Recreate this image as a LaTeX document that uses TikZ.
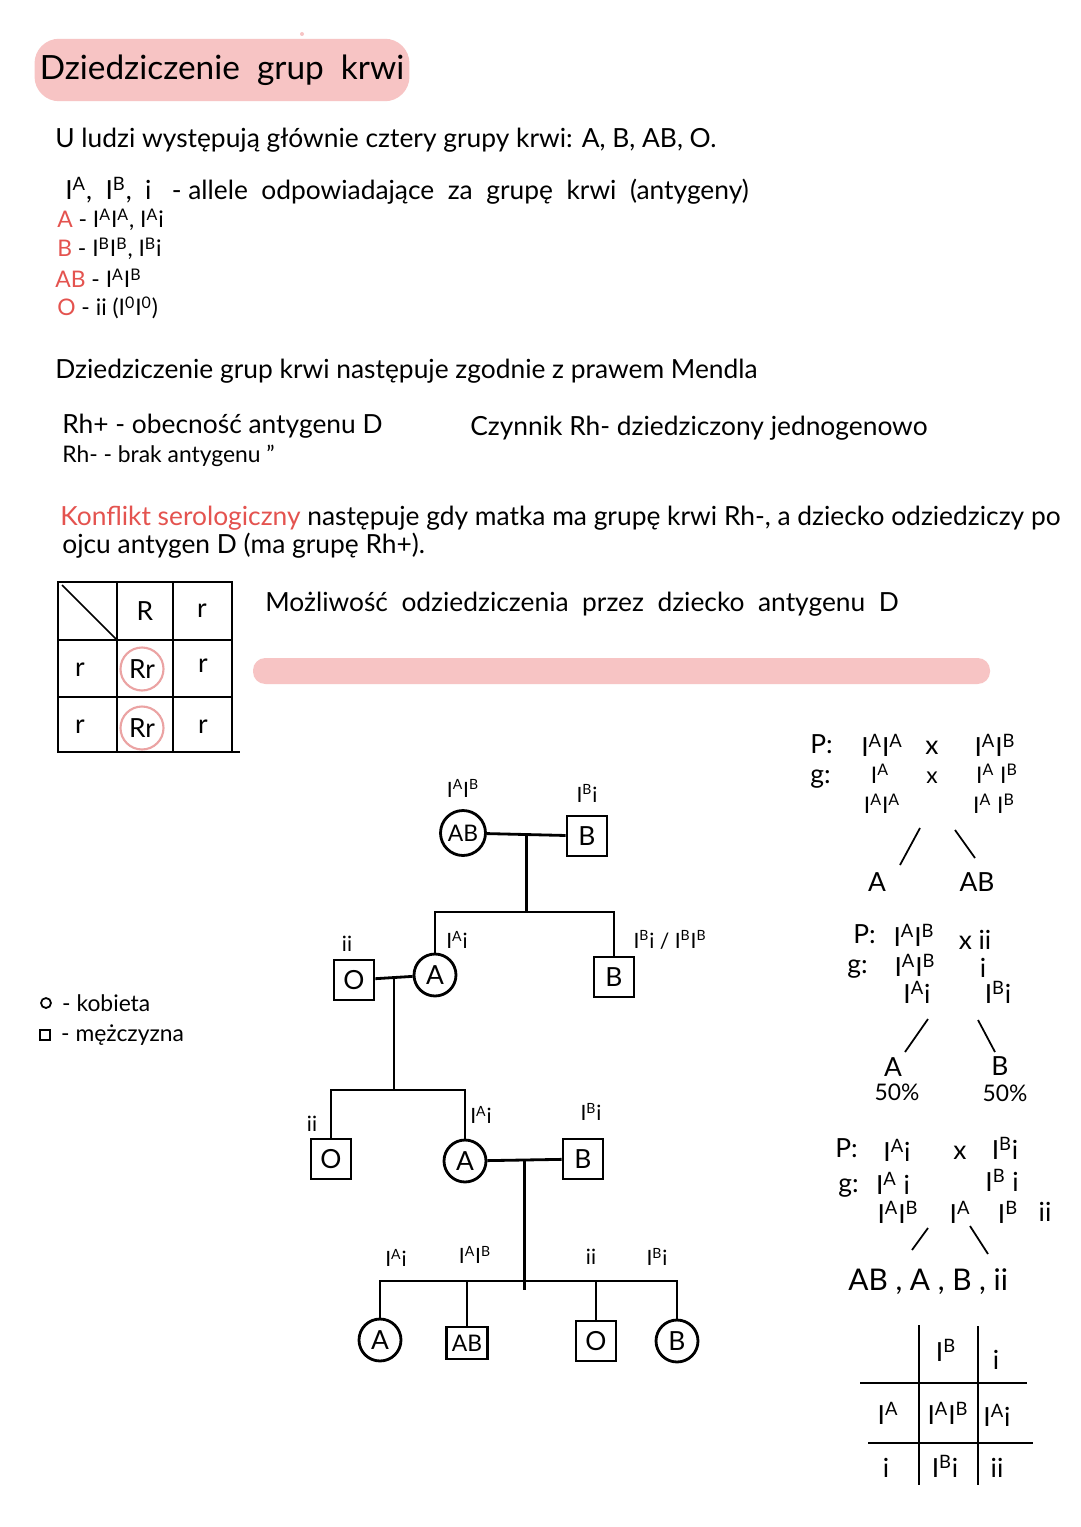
\documentclass[tikz,border=0pt]{standalone}
\usepackage{fontspec}
\setmainfont{Lato}
\usepackage{xcolor}
\definecolor{lightpink}{HTML}{F7C4C4}
\definecolor{ringpink}{HTML}{EBA3A3}
\definecolor{notered}{HTML}{E4534F}
\usepackage{tikz}
\usetikzlibrary{positioning,calc}
\newcommand{\allel}[1]{I\textsuperscript{#1}}

\begin{document}
\begin{tikzpicture}[
  x=0.02cm, y=-0.02cm,
  font=\fontsize{15}{18}\selectfont,
  tekst/.style={anchor=base west, inner sep=0pt},
  maly/.style={tekst, font=\fontsize{13}{15}\selectfont},
  geno/.style={inner sep=1pt, font=\fontsize{12}{14}\selectfont},
  gen/.style={inner sep=0pt},
  gens/.style={gen, font=\fontsize{13}{15}\selectfont},
  kobieta/.style={draw, circle, line width=1.6pt, minimum size=0.84cm, inner sep=0pt,
                  font=\fontsize{15}{17}\selectfont},
  mezczyzna/.style={draw, rectangle, line width=1.6pt, minimum size=0.8cm, inner sep=0pt,
                    font=\fontsize{15}{17}\selectfont},
  rod/.style={line width=1.6pt},
  krata/.style={line width=1.2pt},
  galaz/.style={line width=1pt},
  pole/.style={inner sep=1pt}
]
\useasboundingbox[fill=white] (0,0) rectangle (1080,1527);

\node[fill=lightpink, rounded corners=14pt, inner sep=2pt, minimum width=7.5cm, minimum height=1.25cm,
      font=\fontsize{19}{23}\selectfont] (tytul) at (222,70) {Dziedziczenie\ \ grup\ \ krwi};
\fill[lightpink] (302,34) circle (2);

\node[tekst] (l1) at (55,148) {U ludzi występują głównie cztery grupy krwi: A, B, AB, O.};
\node[tekst] (l2) at (65,200) {\allel{A},\ \ \allel{B},\ \ i \ \ - allele\ \ odpowiadające\ \ za\ \ grupę\ \ krwi\ \ (antygeny)};
\node[maly] (ga) at (57,228) {\textcolor{notered}{A} - \allel{A}\allel{A}, \allel{A}i};
\node[maly] (gb) at (57,257) {\textcolor{notered}{B} - \allel{B}\allel{B}, \allel{B}i};
\node[maly] (gab) at (55,288) {\textcolor{notered}{AB} - \allel{A}\allel{B}};
\node[maly] (go) at (57,316) {\textcolor{notered}{O} - ii (\allel{0}\allel{0})};

\node[tekst] (mendel) at (55,378) {Dziedziczenie grup krwi następuje zgodnie z prawem Mendla};
\node[tekst] (rhp) at (62,433) {Rh+ - obecność antygenu D};
\node[maly] (rhm) at (62,462) {Rh- - brak antygenu ”};
\node[tekst] (czynnik) at (470,435) {Czynnik Rh- dziedziczony jednogenowo};
\node[tekst] (konflikt) at (60,525) {\textcolor{notered}{Konflikt serologiczny} następuje gdy matka ma grupę krwi Rh-, a dziecko odziedziczy po};
\node[tekst] (ojcu) at (62,553) {ojcu antygen D (ma grupę Rh+).};

\draw[krata] (58,582) rectangle (232,752);
\foreach \x in {117,173} \draw[krata] (\x,582) -- (\x,752);
\foreach \y in {640,697} \draw[krata] (58,\y) -- (232,\y);
\draw[krata] (232,752) -- (240,752);
\draw[galaz] (62,585) -- (117,640);
\node[pole] (hR) at (145,611) {R};
\node[pole] (hr) at (202,611) {r};
\node[pole] (w1) at (80,670) {r};
\node[circle, draw=ringpink, line width=1.2pt, minimum size=0.86cm, inner sep=0pt] (rr1) at (142,669) {Rr};
\node[pole] (c1) at (203,666) {r};
\node[pole] (w2) at (80,727) {r};
\node[circle, draw=ringpink, line width=1.2pt, minimum size=0.86cm, inner sep=0pt] (rr2) at (142,728) {Rr};
\node[pole] (c2) at (203,727) {r};

\node[tekst] (mozliwosc) at (265,611) {Możliwość\ \ odziedziczenia\ \ przez\ \ dziecko\ \ antygenu\ \ D};
\fill[lightpink, rounded corners=7pt] (253,658) rectangle (990,684);

\node[draw, circle, line width=1pt, minimum size=0.2cm, inner sep=0pt] (legk) at (46,1003) {};
\node[maly, right=0.2cm of legk.east, anchor=west] (legkt) {- kobieta};
\node[draw, rectangle, line width=1pt, minimum size=0.2cm, inner sep=0pt] (legm) at (45,1035) {};
\node[maly, right=0.2cm of legm.east, anchor=west] (legmt) {- mężczyzna};

\node[kobieta, font=\fontsize{13}{15}\selectfont, minimum height=0.9cm] (babcia) at (463,833) {AB};
\node[mezczyzna] (dziadek) at (587,836) {B};
\node[kobieta] (corka) at (435,975) {A};
\node[mezczyzna] (syn) at (614,977) {B};
\node[mezczyzna] (ziec) at (354,980) {O};
\node[mezczyzna] (wnuk) at (331,1159) {O};
\node[kobieta] (wnuczka) at (465,1161) {A};
\node[mezczyzna] (partner) at (583,1159) {B};
\node[kobieta] (d1) at (380,1340) {A};
\node[mezczyzna, minimum height=0.64cm, minimum width=0.82cm, font=\fontsize{13}{15}\selectfont] (d2) at (467,1343) {AB};
\node[mezczyzna] (d3) at (596,1341) {O};
\node[kobieta] (d4) at (677,1341) {B};

\node[geno, above=0.2cm of babcia] (gbabcia) {\allel{A}\allel{B}};
\node[geno, above=0.2cm of dziadek] (gdziadek) {\allel{B}i};
\node[geno] (gcorka) at (457,940) {\allel{A}i};
\node[geno] (gsyn) at (670,940) {\allel{B}i / \allel{B}\allel{B}};
\node[geno] (gziec) at (347,944) {ii};
\node[geno] (gwnuk) at (312,1124) {ii};
\node[geno] (gwnuczka) at (481,1115) {\allel{A}i};
\node[geno] (gpartner) at (591,1112) {\allel{B}i};
\node[geno] (gd1) at (396,1258) {\allel{A}i};
\node[geno] (gd2) at (475,1255) {\allel{A}\allel{B}};
\node[geno] (gd3) at (591,1257) {ii};
\node[geno] (gd4) at (657,1257) {\allel{B}i};

\coordinate (m1) at ($(babcia.east)!0.5!(dziadek.west)$);
\coordinate (r1) at (522,912);
\draw[rod] (babcia) -- (dziadek);
\draw[rod] (m1) -- (m1 |- r1);
\draw[rod] (corka.north) -- (corka.north |- r1) -- (syn.north |- r1) -- (syn.north);
\coordinate (m2) at ($(ziec.east)!0.5!(corka.west)$);
\coordinate (r2) at (396,1090);
\draw[rod] (ziec) -- (corka);
\draw[rod] (m2) -- (m2 |- r2);
\draw[rod] (wnuk.north) -- (wnuk.north |- r2) -- (wnuczka.north |- r2) -- (wnuczka.north);
\coordinate (m3) at ($(wnuczka.east)!0.5!(partner.west)$);
\coordinate (r3) at (522,1281);
\draw[rod] (wnuczka) -- (partner);
\draw[rod] (m3) -- ($(m3 |- r3)+(0,9)$);
\draw[rod] (d1.north) -- (d1.north |- r3) -- (d4.north |- r3) -- (d4.north);
\draw[rod] (d2.north) -- (d2.north |- r3);
\draw[rod] (d3.north) -- (d3.north |- r3);

\node[tekst] (k1p) at (810,753) {P:};
\node[gen] (k1a) at (882,745) {\allel{A}\allel{A}};
\node[gen] (k1x) at (932,748) {x};
\node[gen] (k1b) at (995,745) {\allel{A}\allel{B}};
\node[tekst] (k1g) at (810,783) {g:};
\node[gens] (k1ga) at (880,774) {\allel{A}};
\node[gens] (k1gx) at (932,778) {x};
\node[gens] (k1gb) at (997,774) {\allel{A}\ \allel{B}};
\node[gens] (k1fa) at (882,804) {\allel{A}\allel{A}};
\node[gens] (k1fb) at (994,804) {\allel{A}\ \allel{B}};
\node[gen] (k1wa) at (877,882) {A};
\node[gen] (k1wb) at (977,882) {AB};
\draw[galaz] ($(k1wa)+(43,-54)$) -- ($(k1wa)+(23,-17)$);
\draw[galaz] ($(k1wb)+(-22,-52)$) -- ($(k1wb)+(-2,-24)$);

\node[tekst] (k2p) at (853,943) {P:};
\node[gen] (k2a) at (914,935) {\allel{A}\allel{B}};
\node[gen] (k2x) at (975,940) {x ii};
\node[tekst] (k2g) at (847,973) {g:};
\node[gen] (k2ga) at (915,965) {\allel{A}\allel{B}};
\node[gen] (k2gi) at (983,968) {i};
\node[gen] (k2fa) at (917,992) {\allel{A}i};
\node[gen] (k2fb) at (998,992) {\allel{B}i};
\node[gen] (k2wa) at (893,1067) {A};
\node[gens] (k2pa) at (897,1092) {50\%};
\node[gen] (k2wb) at (1000,1066) {B};
\node[gens] (k2pb) at (1005,1093) {50\%};
\draw[galaz] ($(k2wa)+(35,-48)$) -- ($(k2wa)+(12,-15)$);
\draw[galaz] ($(k2wb)+(-22,-46)$) -- ($(k2wb)+(-5,-14)$);

\node[tekst] (k3p) at (835,1157) {P:};
\node[gen] (k3a) at (897,1150) {\allel{A}i};
\node[gen] (k3x) at (960,1153) {x};
\node[gen] (k3b) at (1005,1148) {\allel{B}i};
\node[tekst] (k3g) at (838,1192) {g:};
\node[gen] (k3ga) at (893,1183) {\allel{A}\ i};
\node[gen] (k3gb) at (1002,1180) {\allel{B}\ i};
\node[gen] (k3f1) at (898,1212) {\allel{A}\allel{B}};
\node[gen] (k3f2) at (960,1212) {\allel{A}};
\node[gen] (k3f3) at (1008,1212) {\allel{B}};
\node[gen] (k3f4) at (1045,1212) {ii};
\node[tekst, font=\fontsize{17}{20}\selectfont] (k3w) at (848,1290) {AB , A , B , ii};
\draw[galaz] ($(k3f1)+(30,16)$) -- ($(k3f1)+(14,38)$);
\draw[galaz] ($(k3f2)+(10,14)$) -- ($(k3f2)+(28,42)$);

\draw[krata] (919,1325) -- (919,1485);
\draw[krata] (978,1326) -- (978,1485);
\draw[krata] (860,1383) -- (1027,1383);
\draw[krata] (868,1443) -- (1033,1443);
\node[pole] (t2b) at (946,1350) {\allel{B}};
\node[pole] (t2i) at (996,1360) {i};
\node[pole] (t2a) at (888,1413) {\allel{A}};
\node[pole] (t2ab) at (948,1413) {\allel{A}\allel{B}};
\node[pole] (t2ai) at (997,1415) {\allel{A}i};
\node[pole] (t2w) at (886,1468) {i};
\node[pole] (t2bi) at (945,1466) {\allel{B}i};
\node[pole] (t2ii) at (997,1468) {ii};
\end{tikzpicture}
\end{document}
